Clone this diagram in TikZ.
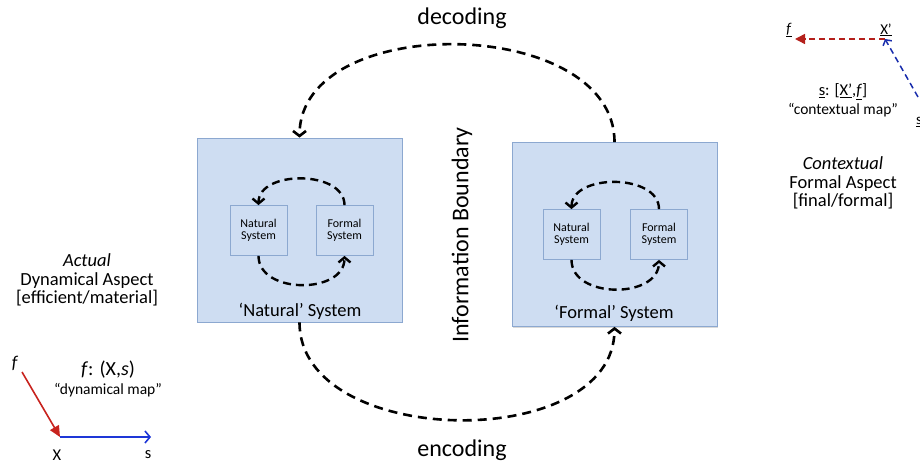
\documentclass[tikz,border=0pt]{standalone}
\usepackage{fontspec}
\setmainfont{Carlito}
\usetikzlibrary{arrows.meta,shadows}
\definecolor{boxfill}{RGB}{206,221,242}
\definecolor{boxline}{RGB}{140,168,208}
\definecolor{mapred}{RGB}{200,35,30}
\definecolor{mapblue}{RGB}{30,55,215}
\newcommand{\sz}[1]{\fontsize{#1}{#1}\selectfont}

\begin{document}
\begin{tikzpicture}[x=1pt,y=1pt]
	\tikzstyle{system}=[draw=boxline,fill=boxfill,line width=0.8pt,inner sep=0pt,minimum width=205pt,minimum height=184pt,drop shadow={opacity=0.3,shadow xshift=1pt,shadow yshift=-1.5pt}]
	\tikzstyle{subsystem}=[draw=boxline,fill=boxfill,line width=0.8pt,inner sep=0pt,minimum width=57pt,minimum height=50pt,align=center,font=\sz{12}]
	\tikzstyle{flow}=[line width=2.6pt,dash pattern=on 9pt off 6pt,-{Straight Barb[length=5pt,width=13pt]}]
	\tikzstyle{loop}=[line width=2.4pt,dash pattern=on 8pt off 5pt,-{Straight Barb[length=5pt,width=12pt]}]
	\useasboundingbox (0,0) rectangle (920,463);
	
	\node[system] at (299.5,233) (nat) {};
	\node[system] at (614.5,228.5) (frm) {};
	\node[font=\sz{18.5}] at (300,152) (natlab) {‘Natural’ System};
	\node[font=\sz{18.5}] at (614,150) (frmlab) {‘Formal’ System};
	
	\node[subsystem] at (258.5,232.5) (nn1) {Natural\\System};
	\node[subsystem] at (344.5,232.5) (nf1) {Formal\\System};
	\node[subsystem] at (571.5,228.5) (nn2) {Natural\\System};
	\node[subsystem] at (659,228.5) (nf2) {Formal\\System};
	
	\draw[loop] (nf1.north) to[out=90,in=90,looseness=1.05] (nn1.north);
	\draw[loop] (nn1.south) to[out=-90,in=-90,looseness=1.15] (nf1.south);
	\draw[loop] (nf2.north) to[out=90,in=90,looseness=1.05] (nn2.north);
	\draw[loop] (nn2.south) to[out=-90,in=-90,looseness=1.15] (nf2.south);
	
	\draw[flow] (frm.north) to[out=90,in=90,looseness=1.03] (nat.north);
	\draw[flow] (nat.south) to[out=-90,in=-90,looseness=1.03] (frm.south);
	
	\node[font=\sz{24}] at (462,445) (dec) {decoding};
	\node[font=\sz{24}] at (462,13) (enc) {encoding};
	\node[font=\sz{24},rotate=90] at (462,228) (bound) {Information Boundary};
	
	% actual side
	\node[font=\sz{18.5},align=center] at (87,183) (aspA) {\textit{Actual}\\Dynamical Aspect\\{[efficient/material]}};
	\node[font=\sz{20}] at (108,93) (mapA) {\textit{f}: (X,\textit{s})};
	\node[font=\sz{15.5}] at (108,73) (qA) {“dynamical map”};
	\node[font=\sz{18}] at (15,100) (fA) {\textit{f}};
	\node[font=\sz{16.5}] at (57,8) (xA) {X};
	\node[font=\sz{16.5}] at (148,8) (sA) {s};
	\coordinate (f0) at (22,91);
	\coordinate (x0) at (60,26);
	\coordinate (s0) at (151,26);
	\draw[mapred,line width=1.6pt,-{Triangle[length=11pt,width=10pt]}] (f0) -- (x0);
	\draw[mapblue,line width=1.6pt,-{Straight Barb[length=5pt,width=12pt]}] (x0) -- (s0);
	
	% contextual side
	\node[font=\sz{18.5},align=center] at (843,280) (aspC) {\textit{Contextual}\\Formal Aspect\\{[final/formal]}};
	\node[font=\sz{16.5}] at (843,371) (mapC) {\underline{s}: [\underline{X’},\underline{\textit{f}}]};
	\node[font=\sz{15.5}] at (843,353) (qC) {“contextual map”};
	\node[font=\sz{15}] at (886,433) (xC) {\underline{X’}};
	\node[font=\sz{15}] at (789,433) (fC) {\underline{\textit{f}}};
	\node[font=\sz{15}] at (919,341) (sC) {\underline{s}};
	\coordinate (x1) at (885,424);
	\coordinate (f1) at (795,424);
	\coordinate (s1) at (918,366);
	\draw[mapred!90!black,line width=1.5pt,dash pattern=on 6pt off 4pt,-{Triangle[length=10pt,width=10pt]}] (x1) -- (f1);
	\draw[mapblue!80!black,line width=1.5pt,dash pattern=on 6pt off 4pt,-{Straight Barb[length=4pt,width=10pt]}] (s1) -- (x1);
\end{tikzpicture}
\end{document}
